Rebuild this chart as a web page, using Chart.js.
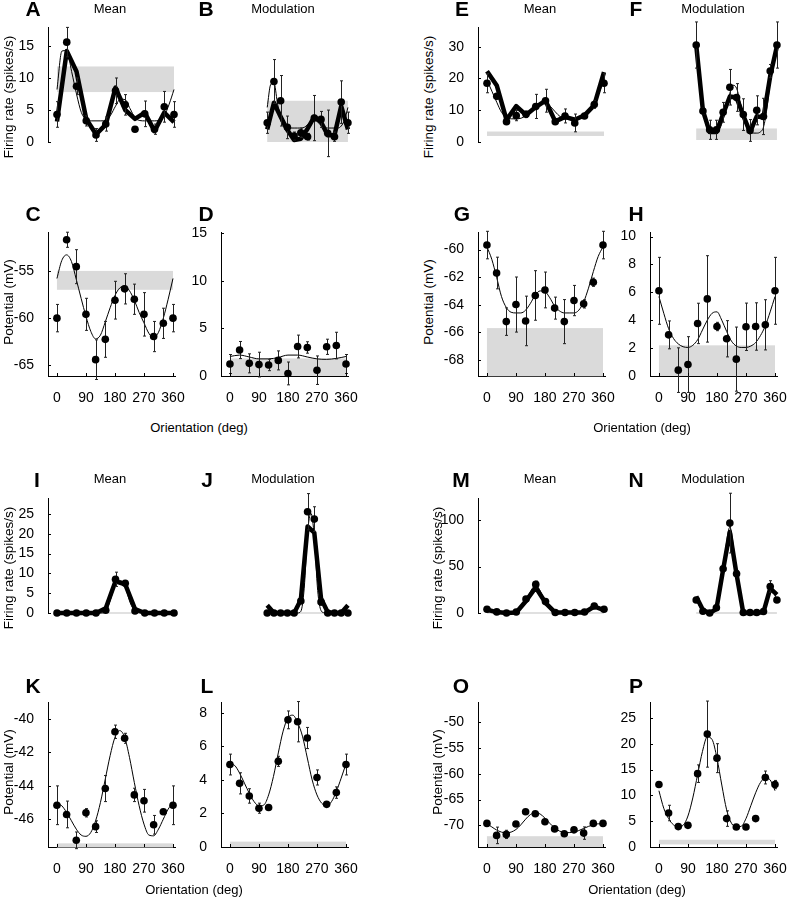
<!DOCTYPE html>
<html>
<head>
<meta charset="utf-8">
<script src="https://cdn.jsdelivr.net/npm/chart.js@4.4.0/dist/chart.umd.min.js"></script>
<style>
  body { margin: 0; background: #fff; }
  #fig { position: relative; width: 789px; height: 899px; overflow: hidden; font-family: "Liberation Sans", Arial, sans-serif; color: #000; }
  #fig canvas { position: absolute; }
  .lbl { position: absolute; white-space: nowrap; font-size: 21px; font-weight: bold; transform: translate(-50%, -50%); }
  .ttl { position: absolute; white-space: nowrap; font-size: 13px; transform: translate(-50%, -50%); }
  .ytl { position: absolute; white-space: nowrap; font-size: 13.5px; transform: translate(-50%, -50%) rotate(-90deg); }
</style>
</head>
<body>
<div id="fig"></div>
<script>
// orientations of the measured points and of the sampled fit curves
const angles = [0, 30, 60, 90, 120, 150, 180, 210, 240, 270, 300, 330, 360];
const fineAngles = [0, 15, 30, 45, 60, 75, 90, 105, 120, 135, 150, 165, 180, 195, 210, 225, 240, 255, 270, 285, 300, 315, 330, 345, 360];
const orientTicks = [0, 90, 180, 270, 360];

// A - mean firing rate
const aDots = [4.3, 15.6, 8.7, 3.3, 1.1, 2.8, 8.0, 5.8, 2.0, 4.4, 2.0, 5.5, 4.3];
const aErr = [2.0, 2.3, 1.3, 0.8, 1.0, 1.1, 2.0, 1.6, 0, 2.0, 0.8, 2.4, 2.0];
const aModel = [3.2, 14.2, 11.0, 3.6, 1.2, 2.7, 8.5, 5.0, 3.6, 4.6, 1.7, 4.6, 3.1];
const aFit = [8.2, 14.2, 14.3, 11.0, 7.5, 4.6, 3.5, 3.3, 3.3, 3.3, 3.4, 4.2, 5.6, 6.7, 6.6, 5.2, 3.8, 3.35, 3.3, 3.3, 3.3, 3.4, 4.1, 5.9, 8.2];
const aBand = [7.8, 11.8];

// B - modulation firing rate
const bDots = [2.9, 9.1, 6.2, 2.2, 0.9, 1.4, 0.8, 3.6, 3.4, 1.3, 0.8, 6.0, 2.9];
const bErr = [1.6, 3.3, 3.8, 1.7, 0.6, 0.7, 0.5, 3.4, 1.2, 3.5, 0.7, 3.2, 1.6];
const bModel = [1.9, 5.9, 3.8, 1.8, 0.3, 0.5, 2.0, 3.8, 3.0, 1.0, 1.0, 5.4, 1.9];
const bFit = [5.2, 8.6, 8.9, 6.0, 3.3, 2.3, 2.1, 2.1, 2.1, 2.1, 2.1, 2.2, 2.6, 3.1, 3.3, 3.0, 2.5, 2.2, 2.1, 2.1, 2.1, 2.1, 2.4, 3.3, 5.2];
const bBand = [0, 6.2];

// C - mean potential
const cDots = [-60.0, -51.7, -54.55, -59.6, -64.4, -62.25, -58.1, -56.9, -58.0, -59.6, -61.95, -60.55, -60.0];
const cErr = [1.45, 0.8, 1.8, 1.7, 2.1, 1.9, 2.0, 1.6, 1.6, 2.3, 1.6, 1.6, 1.45];
const cFit = [-55.8, -53.9, -53.3, -54.0, -55.9, -57.9, -59.8, -61.4, -62.2, -61.8, -60.4, -58.9, -57.6, -56.8, -56.6, -57.1, -58.1, -59.4, -60.5, -61.6, -62.1, -61.5, -60.0, -58.0, -55.8];
const cBand = [-57.0, -55.0];

// D - modulation potential
const dDots = [1.26, 2.73, 1.33, 1.2, 1.16, 1.64, 0.27, 3.1, 3.0, 0.61, 3.07, 3.2, 1.26];
const dErr = [1.0, 0.9, 1.0, 1.3, 0.6, 1.0, 1.2, 1.2, 0.6, 1.5, 0.8, 1.4, 1.0];
const dFit = [2.05, 2.2, 2.0, 1.8, 1.8, 1.95, 2.2, 2.2, 2.0, 1.8, 1.75, 1.85, 2.05];
const dBand = [0, 1.85];

// E - mean firing rate
const eDots = [18.5, 14.4, 6.4, 8.3, 8.7, 11.2, 13.0, 6.4, 8.2, 6.0, 8.2, 11.8, 18.5];
const eErr = [3.0, 0.8, 0.6, 1.6, 1.0, 3.8, 3.6, 0.6, 2.2, 2.8, 0.6, 1.2, 3.0];
const eModel = [22.3, 17.8, 7.0, 11.3, 8.5, 11.0, 13.0, 6.5, 7.9, 7.0, 8.4, 11.6, 22.0];
const eFit = [19.5, 16.0, 12.5, 9.3, 7.8, 7.3, 7.3, 7.5, 8.3, 9.6, 11.0, 12.0, 12.8, 11.2, 9.5, 8.0, 7.4, 7.2, 7.2, 7.4, 8.2, 9.6, 12.0, 15.5, 19.5];
const eBand = [1.9, 3.3];

// F - modulation firing rate
const fDots = [29.4, 9.4, 3.7, 3.7, 9.0, 16.6, 13.5, 8.3, 3.5, 9.6, 7.75, 21.5, 29.4];
const fErr = [7.0, 1.0, 2.9, 2.9, 3.0, 5.4, 4.2, 4.8, 3.3, 4.4, 5.5, 2.0, 7.0];
const fModel = [29.4, 9.5, 3.0, 3.0, 8.5, 13.8, 13.5, 8.0, 3.0, 7.8, 7.4, 20.0, 29.0];
const fFit = [29.5, 19.0, 10.5, 5.0, 3.0, 2.7, 2.8, 4.0, 6.8, 10.8, 14.8, 17.2, 16.3, 12.5, 8.0, 4.5, 3.0, 2.7, 2.7, 3.0, 4.5, 10.0, 18.5, 25.0, 29.5];
const fBand = [0.6, 4.1];

// G - mean potential
const gDots = [-59.67, -61.7, -65.23, -63.99, -65.18, -63.33, -62.93, -64.25, -65.23, -63.7, -63.94, -62.37, -59.67];
const gErr = [1.0, 1.15, 1.0, 2.0, 1.8, 1.8, 1.3, 0.8, 1.6, 1.1, 0.3, 0.3, 1.0];
const gFit = [-59.8, -60.7, -62.0, -63.4, -64.2, -64.55, -64.6, -64.6, -64.4, -63.9, -63.3, -63.0, -63.05, -63.5, -64.1, -64.45, -64.6, -64.6, -64.6, -64.4, -63.8, -62.8, -61.6, -60.5, -59.8];
const gBand = [-69.2, -65.7];

// H - modulation potential
const hDots = [6.11, 2.95, 0.42, 0.82, 3.77, 5.53, 3.55, 2.67, 1.21, 3.53, 3.55, 3.67, 6.11];
const hErr = [2.4, 1.0, 1.6, 2.0, 1.45, 3.1, 0.3, 1.3, 2.3, 1.7, 1.7, 1.8, 2.4];
const hFit = [5.7, 4.5, 3.4, 2.7, 2.3, 2.1, 2.05, 2.2, 2.6, 3.3, 4.0, 4.5, 4.6, 4.0, 3.2, 2.5, 2.15, 2.05, 2.05, 2.15, 2.4, 2.9, 3.6, 4.6, 5.7];
const hBand = [0, 2.2];

// I - mean firing rate
const iDots = [0, 0, 0, 0, 0, 0.7, 8.5, 7.5, 0.5, 0, 0, 0, 0];
const iErr = [0, 0, 0, 0, 0, 0, 1.8, 0.6, 0, 0, 0, 0, 0];
const iModel = [0, 0, 0, 0, 0, 1.2, 8.0, 7.2, 1.0, 0, 0, 0, 0];
const iFit = [0, 0, 0, 0, 0, 0, 0, 0, 0, 0, 0.3, 3.5, 7.4, 8.2, 6.6, 2.6, 0.5, 0.05, 0, 0, 0, 0, 0, 0, 0];
const iBand = [-0.2, 0.2];

// J - modulation firing rate
const jDots = [0, 0, 0, 0, 0, 2.9, 24.6, 22.8, 2.7, 0, 0, 0, 0];
const jErr = [0, 0, 0, 0, 0, 0.5, 4.4, 3.0, 0.8, 0, 0, 0, 0];
const jModel = [1.9, 0, 0, 0, 0, 3.2, 21.0, 19.5, 3.5, 0.2, 0, 0, 1.9];
const jFit = [0, 0, 0, 0, 0, 0, 0, 0, 0, 0, 0.4, 6.0, 19.5, 24.2, 18.5, 5.5, 0.6, 0.05, 0, 0, 0, 0, 0, 0, 0];
const jBand = [-0.2, 0.2];

// K - mean potential
const kDots = [-45.17, -45.72, -47.27, -45.62, -46.45, -44.17, -40.77, -41.16, -44.55, -44.9, -46.34, -45.56, -45.17];
const kErr = [1.16, 0.8, 0.5, 0.25, 0.35, 0.78, 0.4, 0.3, 0.4, 0.68, 0.56, 0.1, 1.16];
const kFit = [-45.05, -45.2, -45.6, -46.1, -46.6, -46.95, -47.03, -46.8, -46.1, -45.0, -43.6, -42.2, -41.1, -40.7, -41.1, -42.3, -43.8, -45.2, -46.3, -46.95, -47.0, -46.6, -46.0, -45.4, -45.05];
const kBand = [-47.7, -47.45];

// L - modulation potential
const lDots = [4.91, 3.79, 3.04, 2.31, 2.35, 5.1, 7.57, 7.46, 6.49, 4.14, 2.54, 3.24, 4.91];
const lErr = [0.62, 0.63, 0.43, 0.3, 0.1, 0.3, 0.53, 1.2, 0.63, 0.45, 0.1, 0.34, 0.62];
const lFit = [4.95, 4.85, 4.4, 3.8, 3.2, 2.7, 2.45, 2.5, 3.1, 4.2, 5.6, 6.9, 7.7, 7.85, 7.4, 6.6, 5.3, 4.0, 3.1, 2.6, 2.45, 2.7, 3.3, 4.1, 4.95];
const lBand = [0, 0.32];

// M - mean firing rate
const mDots = [4.0, 1.2, 0, 1.0, 15.1, 30.8, 12.3, 0.5, 0.5, 0.5, 1.0, 7.6, 4.0];
const mErr = [0, 0, 0, 0, 1.5, 3.5, 1.5, 0, 0, 0, 0, 1.0, 0];
const mModel = [3.5, 1.0, 0, 0.5, 13.0, 27.5, 11.0, 0.5, 0.5, 0.5, 0.5, 7.0, 3.0];
const mFit = [3.8, 1.2, 0.3, 1.2, 15.0, 29.5, 12.5, 0.6, 0.3, 0.3, 1.2, 7.8, 3.8];
const mBand = [-0.9, 0.9];

// N - modulation firing rate
const nDots = [13.5, 1.8, 0, 5.4, 46.0, 93.3, 40.8, 0.5, 0.5, 0.5, 1.5, 27.5, 13.5];
const nErr = [0, 0, 0, 0, 2.0, 31.0, 3.0, 0, 0, 0, 0, 6.0, 0];
const nModel = [17.0, 3.0, 0, 4.0, 45.0, 84.0, 40.0, 0, 0, 0, 1.0, 25.6, 19.0];
const nFit = [13.5, 2.0, 0.3, 5.0, 46.0, 89.0, 41.0, 0.5, 0.3, 0.5, 1.5, 27.0, 13.5];
const nBand = [-0.9, 0.9];

// O - mean potential
const oDots = [-69.62, -71.94, -71.75, -69.74, -67.37, -67.74, -69.3, -70.68, -71.62, -70.87, -71.5, -69.62, -69.62];
const oErr = [0.4, 1.6, 0.8, 0.2, 0.2, 0.2, 0.2, 0.2, 0.2, 0.2, 1.2, 0.2, 0.5];
const oFit = [-69.7, -70.3, -70.9, -71.3, -71.45, -71.3, -70.8, -69.9, -68.8, -67.9, -67.55, -67.8, -68.6, -69.6, -70.5, -71.1, -71.35, -71.4, -71.3, -71.0, -70.6, -70.2, -69.9, -69.7, -69.7];
const oBand = [-74.2, -72.1];

// P - modulation potential
const pDots = [12.09, 6.58, 3.95, 4.19, 14.2, 21.86, 17.2, 5.5, 3.87, 3.87, 5.5, 13.46, 12.09];
const pErr = [0.3, 1.5, 0.3, 0.3, 1.7, 6.4, 2.8, 1.5, 0.2, 0.2, 0.3, 1.25, 0.8];
const pFit = [10.9, 7.5, 5.5, 4.3, 3.9, 4.2, 6.0, 9.5, 14.0, 18.5, 21.3, 20.8, 17.2, 12.0, 7.2, 4.6, 3.9, 4.0, 5.5, 8.0, 10.5, 12.5, 13.4, 13.0, 10.9];
const pBand = [0.5, 1.4];

const fig = document.getElementById('fig');
const PX_PER_DEG = 117 / 360;
const X_MIN = -27.7;
const PLOT_W = 129;
const X_MAX = X_MIN + PLOT_W / PX_PER_DEG;
const Y_AXIS_W = 40, PAD_T = 10, PAD_R = 14, X_AXIS_H = 30, PAD_B = 10;
const TICK_FONT = { family: '"Liberation Sans Narrow", "Liberation Sans", Arial, sans-serif', size: 14 };

function pts(xs, ys) {
    return ys.map((y, i) => ({ x: xs[i], y: y }));
}

// gray reference band, behind everything
const bandPlugin = {
    id: 'band',
    beforeDatasetsDraw(chart, args, opts) {
        if (!opts.range) return;
        const x = chart.scales.x, y = chart.scales.y, ctx = chart.ctx;
        const x0 = x.getPixelForValue(0), x1 = x.getPixelForValue(360);
        const y0 = y.getPixelForValue(opts.range[0]), y1 = y.getPixelForValue(opts.range[1]);
        ctx.save();
        ctx.fillStyle = '#dadada';
        ctx.fillRect(x0, Math.min(y0, y1), x1 - x0, Math.abs(y1 - y0));
        ctx.restore();
    }
};

// vertical error bars under the dots
const errorPlugin = {
    id: 'errbars',
    beforeDatasetDraw(chart, args) {
        const ds = chart.data.datasets[args.index];
        if (!ds.errors) return;
        const x = chart.scales.x, y = chart.scales.y, ctx = chart.ctx;
        ctx.save();
        ctx.strokeStyle = '#222';
        ctx.lineWidth = 1;
        ds.data.forEach((p, i) => {
            const e = ds.errors[i];
            if (!e) return;
            const px = Math.round(x.getPixelForValue(p.x)) + 0.5;
            const yt = y.getPixelForValue(p.y + e), yb = y.getPixelForValue(p.y - e);
            ctx.beginPath();
            ctx.moveTo(px, yt); ctx.lineTo(px, yb);
            ctx.moveTo(px - 1.5, yt); ctx.lineTo(px + 1.5, yt);
            ctx.moveTo(px - 1.5, yb); ctx.lineTo(px + 1.5, yb);
            ctx.stroke();
        });
        ctx.restore();
    }
};

// short tick marks pointing into the plot
const inwardTicks = {
    id: 'inwardTicks',
    afterDraw(chart) {
        const a = chart.chartArea, ctx = chart.ctx;
        ctx.save();
        ctx.strokeStyle = '#000';
        ctx.lineWidth = 1;
        const y = chart.scales.y;
        if (y.options.display) {
            y.ticks.forEach(t => {
                const py = Math.round(y.getPixelForValue(t.value)) + 0.5;
                ctx.beginPath(); ctx.moveTo(a.left, py); ctx.lineTo(a.left + 3, py); ctx.stroke();
            });
        }
        const x = chart.scales.x;
        if (x.options.display) {
            x.ticks.forEach(t => {
                const px = Math.round(x.getPixelForValue(t.value)) + 0.5;
                ctx.beginPath(); ctx.moveTo(px, a.bottom); ctx.lineTo(px, a.bottom - 3); ctx.stroke();
            });
        }
        ctx.restore();
    }
};

function panel(p) {
    const showX = !!p.xAxis;
    const plotH = p.bottom - p.top;
    const w = Y_AXIS_W + PLOT_W + PAD_R;
    const h = PAD_T + plotH + (showX ? X_AXIS_H : PAD_B);
    const canvas = document.createElement('canvas');
    canvas.width = w; canvas.height = h;
    canvas.style.width = w + 'px'; canvas.style.height = h + 'px';
    canvas.style.left = (p.axisX - Y_AXIS_W) + 'px';
    canvas.style.top = (p.top - PAD_T) + 'px';
    fig.appendChild(canvas);

    const datasets = [{
        data: pts(p.fitX, p.fit),
        borderColor: '#000', borderWidth: 1, pointRadius: 0,
        cubicInterpolationMode: 'monotone', order: 3, clip: false
    }];
    if (p.model) {
        datasets.push({
            data: pts(angles, p.model),
            borderColor: '#000', borderWidth: 4.5, pointRadius: 0, tension: 0,
            borderJoinStyle: 'round', order: 2, clip: false
        });
    }
    datasets.push({
        data: pts(angles, p.dots), errors: p.err,
        showLine: false, pointRadius: 3.8, pointBackgroundColor: '#000',
        pointBorderColor: '#000', pointBorderWidth: 0, order: 1, clip: false
    });

    new Chart(canvas, {
        type: 'line',
        data: { datasets: datasets },
        options: {
            responsive: false, animation: false, devicePixelRatio: 1,
            layout: { padding: { top: PAD_T, right: PAD_R, bottom: showX ? 0 : PAD_B, left: p.yTicks ? 0 : Y_AXIS_W } },
            plugins: { legend: { display: false }, tooltip: { enabled: false }, band: { range: p.band } },
            scales: {
                x: {
                    type: 'linear', min: X_MIN, max: X_MAX, display: showX,
                    afterBuildTicks: s => { s.ticks = orientTicks.map(v => ({ value: v })); },
                    afterFit: s => { s.height = X_AXIS_H; },
                    grid: { display: false },
                    border: { display: true, color: '#000', width: 1 },
                    ticks: { font: TICK_FONT, color: '#000', padding: 6, maxRotation: 0, callback: v => String(v) }
                },
                y: {
                    type: 'linear', min: p.yMin, max: p.yMax, display: !!p.yTicks,
                    afterBuildTicks: s => { s.ticks = (p.yTicks || []).map(v => ({ value: v })); },
                    afterFit: s => { s.width = Y_AXIS_W; },
                    grid: { display: false },
                    border: { display: true, color: '#000', width: 1 },
                    ticks: { font: TICK_FONT, color: '#000', padding: 6, callback: v => String(v) }
                }
            }
        },
        plugins: [bandPlugin, errorPlugin, inwardTicks]
    });
}

const C1 = 48, C2 = 221, C3 = 478, C4 = 650;
const R1 = [23, 172], R2 = [228, 376], R3 = [494, 643], R4 = [698, 847];

const panels = [
    { axisX: C1, top: R1[0], bottom: R1[1], yMin: 0, yMax: 17.9, yTicks: [0, 5, 10, 15], dots: aDots, err: aErr, model: aModel, fit: aFit, fitX: fineAngles, band: aBand },
    { axisX: C2, top: R1[0], bottom: R1[1], yMin: 0, yMax: 17.9, yTicks: null, dots: bDots, err: bErr, model: bModel, fit: bFit, fitX: fineAngles, band: bBand },
    { axisX: C1, top: R2[0], bottom: R2[1], yMin: -66.13, yMax: -50.92, yTicks: [-65, -60, -55], xAxis: true, dots: cDots, err: cErr, fit: cFit, fitX: fineAngles, band: cBand },
    { axisX: C2, top: R2[0], bottom: R2[1], yMin: 0, yMax: 15.1, yTicks: [0, 5, 10, 15], xAxis: true, dots: dDots, err: dErr, fit: dFit, fitX: angles, band: dBand },
    { axisX: C3, top: R1[0], bottom: R1[1], yMin: 0, yMax: 36.08, yTicks: [0, 10, 20, 30], dots: eDots, err: eErr, model: eModel, fit: eFit, fitX: fineAngles, band: eBand },
    { axisX: C4, top: R1[0], bottom: R1[1], yMin: 0, yMax: 36.08, yTicks: null, dots: fDots, err: fErr, model: fModel, fit: fFit, fitX: fineAngles, band: fBand },
    { axisX: C3, top: R2[0], bottom: R2[1], yMin: -69.18, yMax: -58.75, yTicks: [-68, -66, -64, -62, -60], xAxis: true, dots: gDots, err: gErr, fit: gFit, fitX: fineAngles, band: gBand },
    { axisX: C4, top: R2[0], bottom: R2[1], yMin: 0, yMax: 10.3, yTicks: [0, 2, 4, 6, 8, 10], xAxis: true, dots: hDots, err: hErr, fit: hFit, fitX: fineAngles, band: hBand },
    { axisX: C1, top: R3[0], bottom: R3[1], yMin: 0, yMax: 28.9, yTicks: [0, 5, 10, 15, 20, 25], dots: iDots, err: iErr, model: iModel, fit: iFit, fitX: fineAngles, band: iBand },
    { axisX: C2, top: R3[0], bottom: R3[1], yMin: 0, yMax: 28.9, yTicks: null, dots: jDots, err: jErr, model: jModel, fit: jFit, fitX: fineAngles, band: jBand },
    { axisX: C1, top: R4[0], bottom: R4[1], yMin: -47.67, yMax: -39.01, yTicks: [-46, -44, -42, -40], xAxis: true, dots: kDots, err: kErr, fit: kFit, fitX: fineAngles, band: kBand },
    { axisX: C2, top: R4[0], bottom: R4[1], yMin: 0, yMax: 8.61, yTicks: [0, 2, 4, 6, 8], xAxis: true, dots: lDots, err: lErr, fit: lFit, fitX: fineAngles, band: lBand },
    { axisX: C3, top: R3[0], bottom: R3[1], yMin: 0, yMax: 123.5, yTicks: [0, 50, 100], dots: mDots, err: mErr, model: mModel, fit: mFit, fitX: angles, band: mBand },
    { axisX: C4, top: R3[0], bottom: R3[1], yMin: 0, yMax: 123.5, yTicks: null, dots: nDots, err: nErr, model: nModel, fit: nFit, fitX: angles, band: nBand },
    { axisX: C3, top: R4[0], bottom: R4[1], yMin: -74.19, yMax: -46.18, yTicks: [-70, -65, -60, -55, -50], xAxis: true, dots: oDots, err: oErr, fit: oFit, fitX: fineAngles, band: oBand },
    { axisX: C4, top: R4[0], bottom: R4[1], yMin: 0, yMax: 28.0, yTicks: [0, 5, 10, 15, 20, 25], xAxis: true, dots: pDots, err: pErr, fit: pFit, fitX: fineAngles, band: pBand }
];
panels.forEach(panel);

// text: panel letters, subtitles, axis titles
function text(cls, str, x, y) {
    const d = document.createElement('div');
    d.className = cls;
    d.textContent = str;
    d.style.left = x + 'px';
    d.style.top = y + 'px';
    fig.appendChild(d);
}
[['A', 33, 9], ['B', 206, 9], ['E', 462, 9], ['F', 636, 9],
 ['C', 33, 214], ['D', 206, 214], ['G', 462, 214], ['H', 636, 214],
 ['I', 37, 480], ['J', 207, 480], ['M', 461, 480], ['N', 636, 480],
 ['K', 33, 686], ['L', 207, 686], ['O', 461, 686], ['P', 636, 686]].forEach(t => text('lbl', t[0], t[1], t[2]));
[['Mean', 110, 8], ['Modulation', 283, 8], ['Mean', 540, 8], ['Modulation', 713, 8],
 ['Mean', 110, 478], ['Modulation', 283, 478], ['Mean', 540, 478], ['Modulation', 713, 478],
 ['Orientation (deg)', 199, 427], ['Orientation (deg)', 642, 427],
 ['Orientation (deg)', 194, 889], ['Orientation (deg)', 637, 889]].forEach(t => text('ttl', t[0], t[1], t[2]));
[['Firing rate (spikes/s)', 8, 97], ['Firing rate (spikes/s)', 428, 97],
 ['Potential (mV)', 8, 302], ['Potential (mV)', 428, 302],
 ['Firing rate (spikes/s)', 8, 568], ['Firing rate (spikes/s)', 437, 568],
 ['Potential (mV)', 8, 772], ['Potential (mV)', 437, 772]].forEach(t => text('ytl', t[0], t[1], t[2]));
</script>
</body>
</html>
